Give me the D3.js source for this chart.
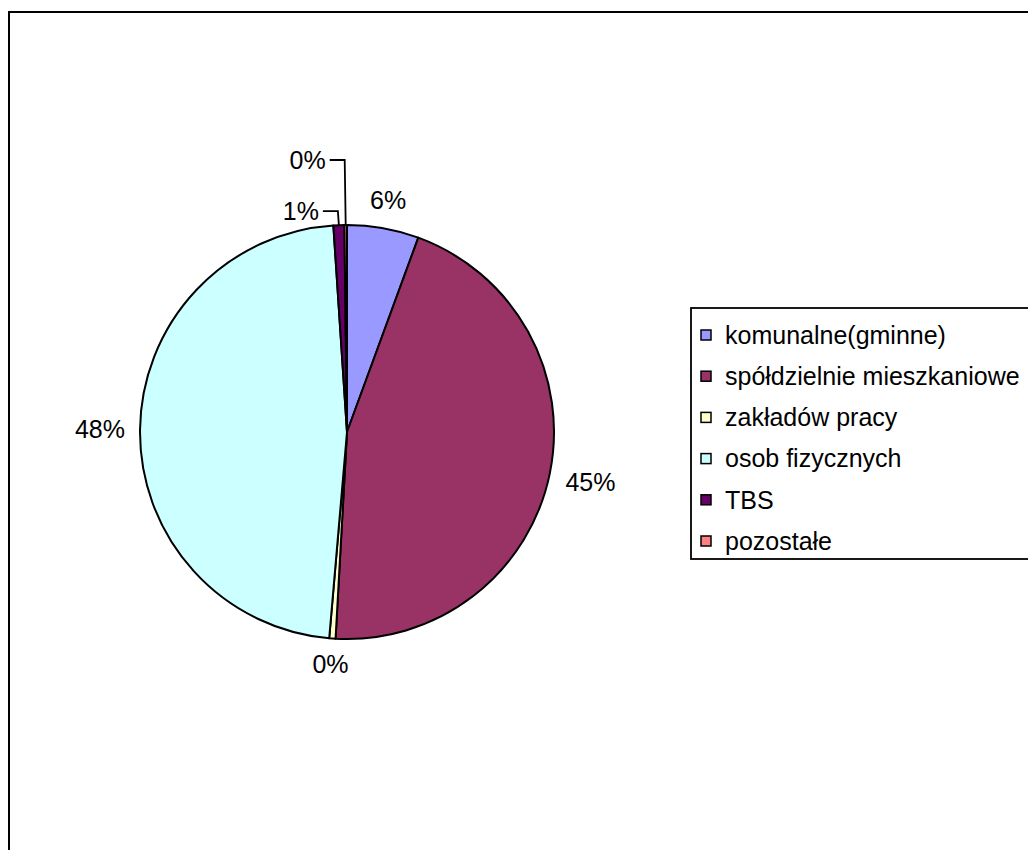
<!DOCTYPE html>
<html>
<head>
<meta charset="utf-8">
<script src="https://cdn.jsdelivr.net/npm/d3@7"></script>
<style>
  html, body { margin: 0; padding: 0; background: #fff; }
  svg { display: block; }
  text { font-family: "Liberation Sans", Arial, sans-serif; fill: #000; }
</style>
</head>
<body>
<svg id="chart" width="1028" height="850"></svg>
<script>
// Housing stock by owner type (share in percent)
const categories = ["komunalne(gminne)", "spółdzielnie mieszkaniowe", "zakładów pracy", "osob fizycznych", "TBS", "pozostałe"];
const shares = [5.6, 45.3, 0.49, 47.6, 0.85, 0.2];
const colors = ["#9999FF", "#993366", "#FFFFCC", "#CCFFFF", "#660066", "#FF8080"];

const W = 1028, H = 850;
const svg = d3.select("#chart");

// outer chart frame (runs past the right and bottom edges)
svg.append("rect")
  .attr("x", 9).attr("y", 12)
  .attr("width", W + 20).attr("height", H + 20)
  .attr("fill", "none").attr("stroke", "#000").attr("stroke-width", 2);

const cx = 347, cy = 432, R = 207;
const data = categories.map((c, i) => ({ name: c, value: shares[i], color: colors[i] }));

const pie = d3.pie().sort(null).value(d => d.value);
const arcs = pie(data);
const arc = d3.arc().innerRadius(0).outerRadius(R);

const g = svg.append("g").attr("transform", `translate(${cx},${cy})`);

g.selectAll("path.slice")
  .data(arcs)
  .join("path")
  .attr("class", "slice")
  .attr("d", arc)
  .attr("fill", d => d.data.color)
  .attr("stroke", "#000")
  .attr("stroke-width", 2)
  .attr("stroke-linejoin", "round");

const fmt = d3.format(".0%");
const labelSize = 25;
const gap = 15;
let stack = 0;

arcs.forEach(a => {
  const mid = (a.startAngle + a.endAngle) / 2;
  const ux = Math.sin(mid), uy = -Math.cos(mid);
  const txt = fmt(a.data.value / 100);
  const t = g.append("text")
    .attr("font-size", labelSize)
    .attr("dy", "0.35em")
    .text(txt);
  const w = t.node().getComputedTextLength();
  const h = labelSize * 0.8;

  if (a.data.value < 1 && uy < -0.9) {
    // tiny slices at the top: labels stacked to the upper left with leader lines
    const ax = R * ux, ay = R * uy;
    const ly = ay - 14 - 51 * stack;
    stack++;
    t.attr("text-anchor", "end").attr("x", ax - 20).attr("y", ly);
    g.append("path")
      .attr("d", d3.line()([[ax - 16, ly], [ax - 1, ly], [ax, ay]]))
      .attr("fill", "none").attr("stroke", "#000").attr("stroke-width", 1.8);
  } else {
    const ext = Math.abs(ux) * w / 2 + Math.abs(uy) * h / 2;
    const d = R + gap + ext;
    t.attr("text-anchor", "middle").attr("x", d * ux).attr("y", d * uy);
  }
});

// legend
const lg = svg.append("g");
const lx = 691, ly0 = 308, rowH = 41.2, firstRow = 27;
const legendSize = 25;
const rows = lg.selectAll("g.row").data(data).join("g").attr("class", "row")
  .attr("transform", (d, i) => `translate(${lx}, ${ly0 + firstRow + i * rowH})`);
rows.append("rect")
  .attr("x", 10).attr("y", -5).attr("width", 10).attr("height", 10)
  .attr("fill", d => d.color).attr("stroke", "#000").attr("stroke-width", 1.5);
rows.append("text")
  .attr("x", 34).attr("dy", "0.35em")
  .attr("font-size", legendSize)
  .text(d => d.name);
let maxW = 0;
rows.selectAll("text").each(function () { maxW = Math.max(maxW, this.getComputedTextLength()); });
lg.insert("rect", ":first-child")
  .attr("x", lx).attr("y", ly0)
  .attr("width", 34 + maxW + 12).attr("height", 251)
  .attr("fill", "#fff").attr("stroke", "#000").attr("stroke-width", 1.8);
</script>
</body>
</html>
